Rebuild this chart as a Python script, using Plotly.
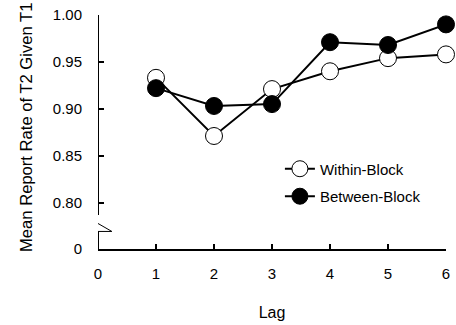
import plotly.graph_objects as go

lags = [1, 2, 3, 4, 5, 6]
within_block = [0.933, 0.871, 0.921, 0.940, 0.954, 0.958]
between_block = [0.922, 0.903, 0.905, 0.971, 0.968, 0.990]
y_tick_vals = [0.7508, 0.80, 0.85, 0.90, 0.95, 1.00]
y_tick_text = ["0", "0.80", "0.85", "0.90", "0.95", "1.00"]
x_tick_vals = [0, 1, 2, 3, 4, 5, 6]

W, H = 456, 325
L, R, T, B = 98, 450, 12, 252
XR = [0, 6]
YR = [0.7505, 1.0]


def xd(px):
    return XR[0] + (px - L) / (R - L) * (XR[1] - XR[0])


def yd(py):
    return YR[1] - (py - T) / (B - T) * (YR[1] - YR[0])


FONT = "Liberation Sans, Arial, sans-serif"

fig = go.Figure()
fig.add_trace(go.Scatter(
    x=lags, y=within_block, name="Within-Block", mode="lines+markers",
    line=dict(color="black", width=2),
    marker=dict(symbol="circle", size=17, color="white", line=dict(color="black", width=1)),
    cliponaxis=False, legendgroup="a",
))
fig.add_trace(go.Scatter(
    x=lags, y=between_block, name="Between-Block", mode="lines+markers",
    line=dict(color="black", width=2),
    marker=dict(symbol="circle", size=17, color="black", line=dict(color="black", width=1)),
    cliponaxis=False, legendgroup="b",
))

# y-axis line with break
fig.add_shape(type="line", xref="x", yref="y", x0=0, x1=0, y0=yd(T - 1), y1=yd(217),
              line=dict(color="black", width=2))
fig.add_shape(type="line", xref="x", yref="y", x0=0, x1=0, y0=yd(234), y1=yd(B),
              line=dict(color="black", width=2))
fig.add_shape(type="path", xref="x", yref="y",
              path=f"M{xd(95)},{yd(220)} L{xd(88)},{yd(220)} L{xd(112)},{yd(234)} L{xd(98)},{yd(234)}",
              line=dict(color="black", width=1))

fig.add_annotation(text="Mean Report Rate of T2 Given T1", textangle=-90,
                   xref="paper", yref="paper", x=(25 - L) / (R - L), y=(B - 127) / (B - T),
                   xanchor="center", yanchor="middle", showarrow=False,
                   font=dict(size=16.6, family=FONT, color="black"))

fig.update_layout(
    width=W, height=H,
    margin=dict(l=L, r=W - R, t=T, b=H - B),
    paper_bgcolor="white", plot_bgcolor="white",
    font=dict(family=FONT, size=15, color="black"),
    showlegend=True,
    legend=dict(x=(282 - L) / (R - L), y=1 - (153 - T) / (B - T), xanchor="left", yanchor="top",
                bgcolor="rgba(0,0,0,0)", font=dict(size=15), traceorder="grouped",
                tracegroupgap=5, itemwidth=30),
    xaxis=dict(range=XR, tickvals=x_tick_vals, ticks="inside", ticklen=5, tickwidth=2,
               tickcolor="black", showline=True, linewidth=2, linecolor="black",
               showgrid=False, zeroline=False, ticklabelstandoff=10, ticklabeloverflow="allow",
               title=dict(text="Lag", font=dict(size=16), standoff=26)),
    yaxis=dict(range=YR, tickvals=y_tick_vals, ticktext=y_tick_text, ticks="inside",
               ticklen=6, tickwidth=2, tickcolor="black", showline=False,
               showgrid=False, zeroline=False, ticklabelstandoff=15, ticklabeloverflow="allow"),
)

fig.write_html("out.html")
